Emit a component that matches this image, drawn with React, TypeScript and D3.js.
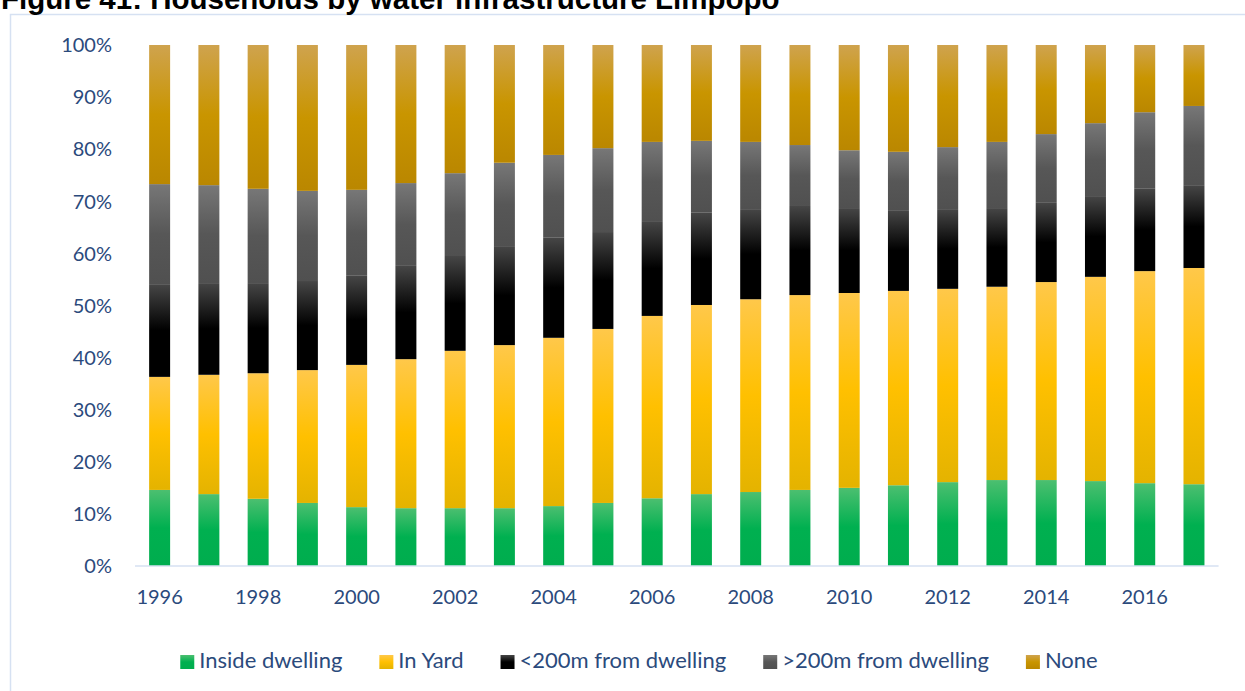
import React, { useEffect, useRef } from "react";
import * as d3 from "d3";

const years = [1996,1997,1998,1999,2000,2001,2002,2003,2004,2005,2006,2007,2008,2009,2010,2011,2012,2013,2014,2015,2016,2017];
const insideDwelling = [14.6,13.8,12.9,12.1,11.3,11.1,11.1,11.1,11.5,12.1,13.0,13.8,14.2,14.6,15.0,15.5,16.1,16.5,16.5,16.3,15.9,15.7];
const inYard = [21.7,22.9,24.1,25.5,27.3,28.6,30.2,31.3,32.3,33.4,35.0,36.3,37.0,37.4,37.4,37.3,37.1,37.1,38.0,39.2,40.7,41.5];
const under200m = [17.8,17.6,17.3,17.1,17.1,17.9,18.2,19.0,19.2,18.6,18.2,17.7,17.3,17.1,16.3,15.5,15.3,15.1,15.2,15.5,15.8,15.9];
const over200m = [19.2,18.8,18.1,17.3,16.5,15.9,15.9,16.0,15.9,16.1,15.2,13.8,12.9,11.7,11.1,11.2,11.9,12.7,13.2,14.0,14.7,15.2];
const noneAccess = [26.7,26.9,27.6,28.0,27.8,26.5,24.6,22.6,21.1,19.8,18.6,18.4,18.6,19.2,20.2,20.5,19.6,18.6,17.1,15.0,12.9,11.7];

const seriesNames = ["Inside dwelling", "In Yard", "<200m from dwelling", ">200m from dwelling", "None"];
const seriesKeys = ["inside", "yard", "near", "far", "none"];
const yTicks = [0,10,20,30,40,50,60,70,80,90,100];
const xTickYears = [1996,1998,2000,2002,2004,2006,2008,2010,2012,2014,2016];
const titleText = "Figure 41: Households by water infrastructure Limpopo";

const gradients: Record<string, [string, string, string]> = {
  inside: ["#4cbf70", "#00b050", "#00ad4e"],
  yard: ["#ffc84a", "#ffc000", "#e4b300"],
  near: ["#464646", "#000000", "#000000"],
  far: ["#777777", "#575757", "#505050"],
  none: ["#cfa34e", "#c99500", "#ba8700"],
};

const W = 1245, H = 691;
const TEXT = "#2b4a7c";
const FONT = "Lato, 'Open Sans', sans-serif";

export default function App() {
  const ref = useRef<SVGSVGElement>(null);
  useEffect(() => {
    const svg = d3.select(ref.current);
    svg.selectAll("*").remove();

    const defs = svg.append("defs");
    seriesKeys.forEach((k) => {
      const g = defs.append("linearGradient").attr("id", "grad-" + k)
        .attr("x1", 0).attr("y1", 0).attr("x2", 0).attr("y2", 1);
      const c = gradients[k];
      g.append("stop").attr("offset", "0%").attr("stop-color", c[0]);
      g.append("stop").attr("offset", "50%").attr("stop-color", c[1]);
      g.append("stop").attr("offset", "100%").attr("stop-color", c[2]);
    });

    svg.append("rect").attr("width", W).attr("height", H).attr("fill", "#ffffff");

    // chart border
    svg.append("rect").attr("x", 10.5).attr("y", 14.5).attr("width", 1300).attr("height", 700)
      .attr("fill", "none").attr("stroke", "#d6e1f2").attr("stroke-width", 1.5);

    // title
    svg.append("text").attr("x", 1).attr("y", 9)
      .attr("font-family", "'Liberation Sans', Arial, sans-serif").attr("font-weight", "bold")
      .attr("font-size", 29.5).attr("fill", "#000").text(titleText);

    const rows = years.map((y, i) => ({
      year: String(y),
      inside: insideDwelling[i], yard: inYard[i], near: under200m[i], far: over200m[i], none: noneAccess[i],
    }));
    const stack = d3.stack<any>().keys(seriesKeys);
    const stacked = stack(rows);

    const x = d3.scaleBand<string>().domain(years.map(String)).range([135, 1218.6])
      .paddingInner(0.574).paddingOuter(0.287);
    const y = d3.scaleLinear().domain([0, 100]).range([566, 45]);

    const gBars = svg.append("g");
    stacked.forEach((s) => {
      gBars.append("g").attr("fill", `url(#grad-${s.key})`)
        .selectAll("rect").data(s).join("rect")
        .attr("x", (d: any) => x(d.data.year)!)
        .attr("width", x.bandwidth())
        .attr("y", (d: any) => y(d[1]))
        .attr("height", (d: any) => y(d[0]) - y(d[1]));
    });

    // x axis line
    svg.append("line").attr("x1", 135).attr("x2", 1218.6).attr("y1", 566).attr("y2", 566)
      .attr("stroke", "#d6e1f2").attr("stroke-width", 1.5);

    // y labels
    svg.append("g").selectAll("text").data(yTicks).join("text")
      .attr("x", 112).attr("y", (d) => y(d)).attr("dy", "0.36em")
      .attr("text-anchor", "end").attr("font-family", FONT).attr("font-size", 20)
      .attr("fill", TEXT).text((d) => d + "%");

    // x labels
    svg.append("g").selectAll("text").data(xTickYears).join("text")
      .attr("x", (d) => x(String(d))! + x.bandwidth() / 2).attr("y", 604)
      .attr("text-anchor", "middle").attr("font-family", FONT).attr("font-size", 20)
      .attr("fill", TEXT).text((d) => String(d));

    // legend
    const lg = svg.append("g");
    const items = seriesKeys.map((k, i) => {
      const g = lg.append("g");
      g.append("rect").attr("width", 14).attr("height", 14).attr("y", -13)
        .attr("fill", `url(#grad-${k})`);
      const t = g.append("text").attr("x", 19).attr("y", 0)
        .attr("font-family", FONT).attr("font-size", 22).attr("fill", TEXT).text(seriesNames[i]);
      const w = (t.node() as SVGTextElement).getComputedTextLength();
      return { g, w: 19 + w };
    });
    const gap = 37;
    const total = items.reduce((a, b) => a + b.w, 0) + gap * (items.length - 1);
    let cx = 639 - total / 2;
    items.forEach((it) => {
      it.g.attr("transform", `translate(${cx},668)`);
      cx += it.w + gap;
    });
  }, []);

  return (
    <svg ref={ref} width={W} height={H}
      style={{ position: "absolute", left: 0, top: 0, display: "block" }} />
  );
}
